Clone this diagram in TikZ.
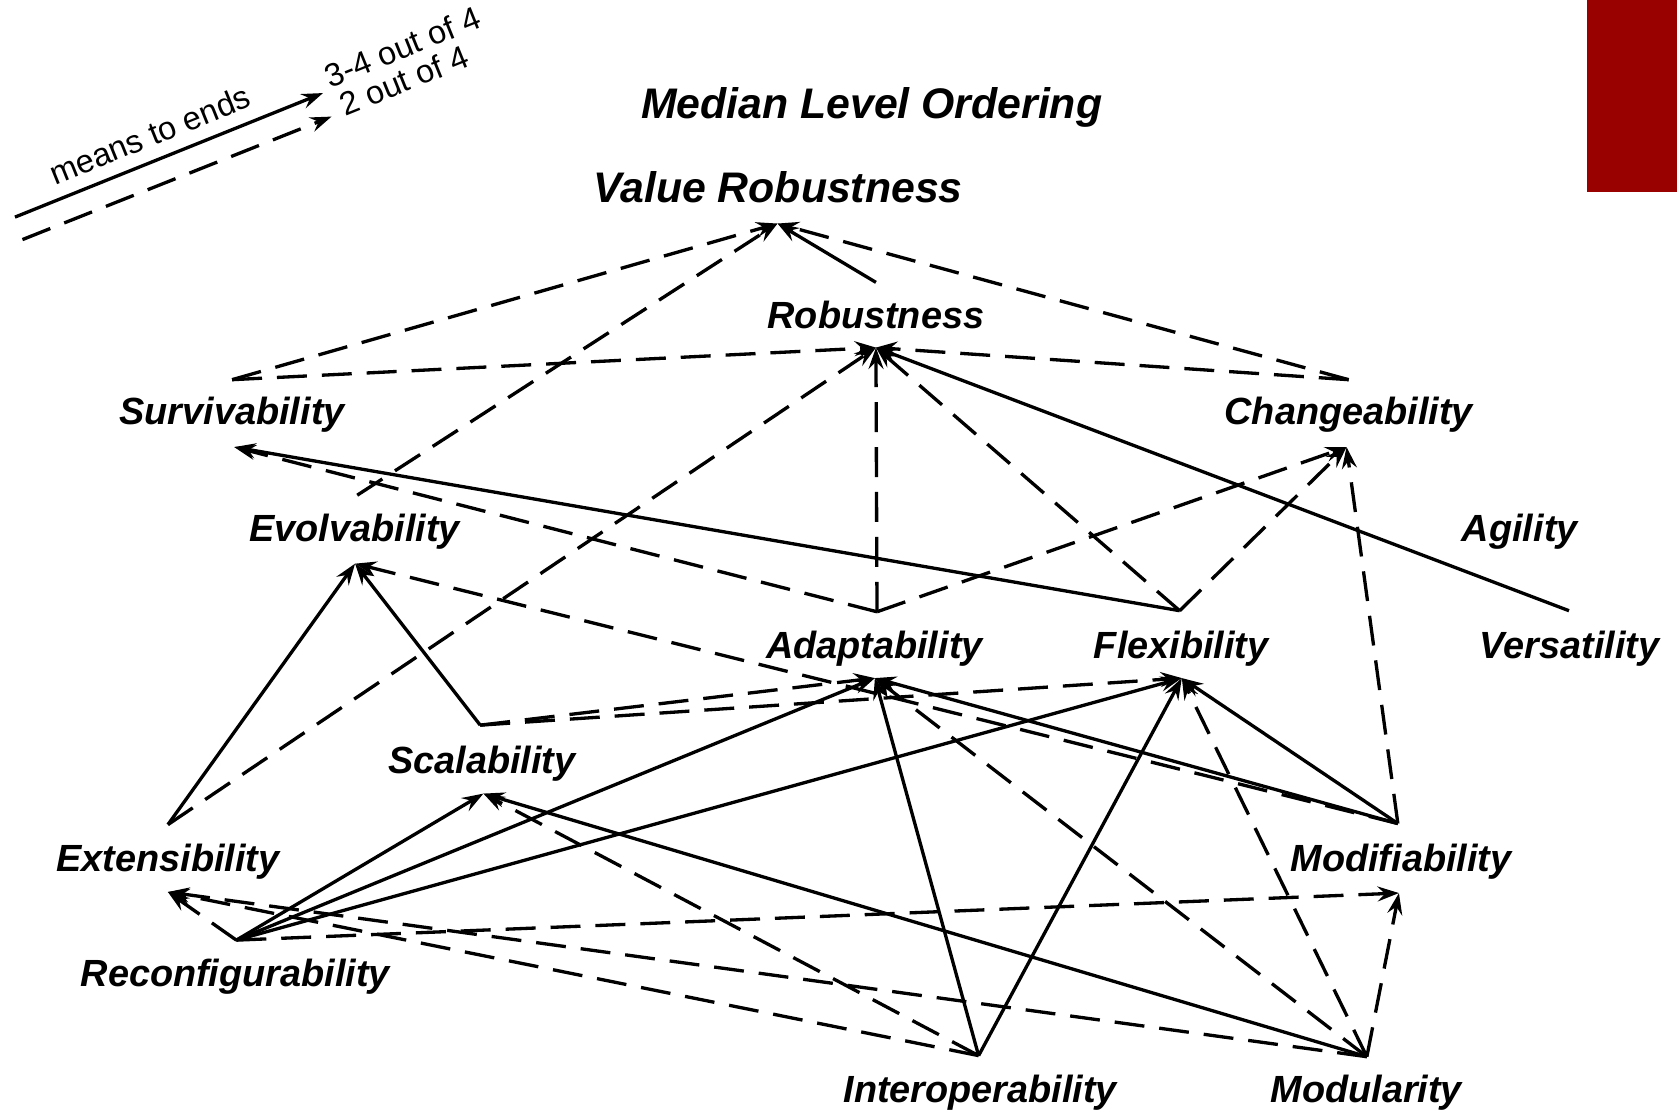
\documentclass[tikz,border=0pt]{standalone}
\usepackage{fontspec}
\setmainfont{Liberation Sans}
\usetikzlibrary{arrows.meta}
\definecolor{darkred}{RGB}{153,0,0}
\begin{document}
\begin{tikzpicture}[x=0.5pt,y=-0.5pt,
  lbl/.style={font=\fontsize{17.7}{20}\selectfont\bfseries\itshape, inner sep=0, anchor=base},
  big/.style={font=\fontsize{20}{24}\selectfont\bfseries\itshape, inner sep=0, anchor=base},
  leg/.style={font=\fontsize{15.2}{18}\selectfont, inner sep=0},
  strong/.style={line width=1.55pt, -{Stealth[length=10pt,width=7pt,inset=3.5pt]}},
  weak/.style={strong, dash pattern=on 14pt off 7pt},
]
\useasboundingbox (0,0) rectangle (1568,1040);
\fill[darkred] (1484,0) rectangle (1568,179.5);

% labels
\node[big] (title) at (815,111) {Median Level Ordering};
\node[big] (vr) at (727.5,189) {Value Robustness};
\node[lbl] (rob) at (819,307) {Robustness};
\node[lbl] (surv) at (217,397) {Survivability};
\node[lbl] (chg) at (1261,397) {Changeability};
\node[lbl] (evo) at (331.5,506.5) {Evolvability};
\node[lbl] (agi) at (1421,506.5) {Agility};
\node[lbl] (adapt) at (817.5,615.5) {Adaptability};
\node[lbl] (flex) at (1104.5,615.5) {Flexibility};
\node[lbl] (vers) at (1467.5,615.5) {Versatility};
\node[lbl] (scal) at (450.5,723) {Scalability};
\node[lbl] (ext) at (157,815) {Extensibility};
\node[lbl] (modif) at (1310,815) {Modifiability};
\node[lbl] (reconf) at (220,922.5) {Reconfigurability};
\node[lbl] (inter) at (916.5,1031) {Interoperability};
\node[lbl] (modul) at (1277.5,1031) {Modularity};

% attachment points
\coordinate (vr-h) at (727,209);
\coordinate (rob-t) at (819,264);
\coordinate (rob-h) at (819,325);
\coordinate (surv-t) at (217,355);
\coordinate (surv-h) at (219,418);
\coordinate (chg-t) at (1261,355);
\coordinate (chg-h) at (1259,418);
\coordinate (evo-t) at (334,463);
\coordinate (evo-h) at (332,527);
\coordinate (adapt-t) at (820,572);
\coordinate (adapt-h) at (818,634);
\coordinate (flex-t) at (1103,571);
\coordinate (flex-h) at (1105,634);
\coordinate (vers-t) at (1467,571);
\coordinate (scal-t) at (449,678);
\coordinate (scal-h) at (452,742);
\coordinate (ext-t) at (157,771);
\coordinate (ext-h) at (157,834);
\coordinate (modif-t) at (1307,770);
\coordinate (modif-h) at (1308,835);
\coordinate (reconf-t) at (221,879);
\coordinate (inter-t) at (915,987);
\coordinate (modul-t) at (1278,988);

% to Value Robustness
\draw[weak] (surv-t) -- (vr-h);
\draw[weak] (evo-t) -- (vr-h);
\draw[strong] (rob-t) -- (vr-h);
\draw[weak] (chg-t) -- (vr-h);
% to Robustness
\draw[weak] (surv-t) -- (rob-h);
\draw[weak] (chg-t) -- (rob-h);
\draw[weak] (adapt-t) -- (rob-h);
\draw[weak] (flex-t) -- (rob-h);
\draw[strong] (vers-t) -- (rob-h);
\draw[weak] (ext-t) -- (rob-h);
% to Survivability
\draw[strong] (flex-t) -- (surv-h);
\draw[weak] (adapt-t) -- (surv-h);
% to Changeability
\draw[weak] (adapt-t) -- (chg-h);
\draw[weak] (flex-t) -- (chg-h);
\draw[weak] (modif-t) -- (chg-h);
% to Evolvability
\draw[strong] (ext-t) -- (evo-h);
\draw[strong] (scal-t) -- (evo-h);
\draw[weak] (modif-t) -- (evo-h);
% to Adaptability
\draw[weak] (scal-t) -- (adapt-h);
\draw[strong] (reconf-t) -- (adapt-h);
\draw[strong] (inter-t) -- (adapt-h);
\draw[weak] (modul-t) -- (adapt-h);
\draw[strong] (modif-t) -- (adapt-h);
% to Flexibility
\draw[weak] (scal-t) -- (flex-h);
\draw[strong] (reconf-t) -- (flex-h);
\draw[strong] (inter-t) -- (flex-h);
\draw[weak] (modul-t) -- (flex-h);
\draw[strong] (modif-t) -- (flex-h);
% to Scalability
\draw[strong] (reconf-t) -- (scal-h);
\draw[weak] (inter-t) -- (scal-h);
\draw[strong] (modul-t) -- (scal-h);
% to Extensibility
\draw[weak] (reconf-t) -- (ext-h);
\draw[weak] (inter-t) -- (ext-h);
\draw[weak] (modul-t) -- (ext-h);
% to Modifiability
\draw[weak] (reconf-t) -- (modif-h);
\draw[weak] (modul-t) -- (modif-h);

% legend
\coordinate (l1a) at (14,203);
\coordinate (l1b) at (302,87);
\coordinate (l2a) at (21,224);
\coordinate (l2b) at (310,109);
\draw[strong] (l1a) -- (l1b);
\draw[weak] (l2a) -- (l2b);
\node[leg, rotate=22] (means) at (140,126) {means to ends};
\node[leg, rotate=22, anchor=base west] (l34) at (308.5,82.5) {3-4 out of 4};
\node[leg, rotate=22, anchor=base west] (l24) at (322.5,109) {2 out of 4};
\end{tikzpicture}
\end{document}
